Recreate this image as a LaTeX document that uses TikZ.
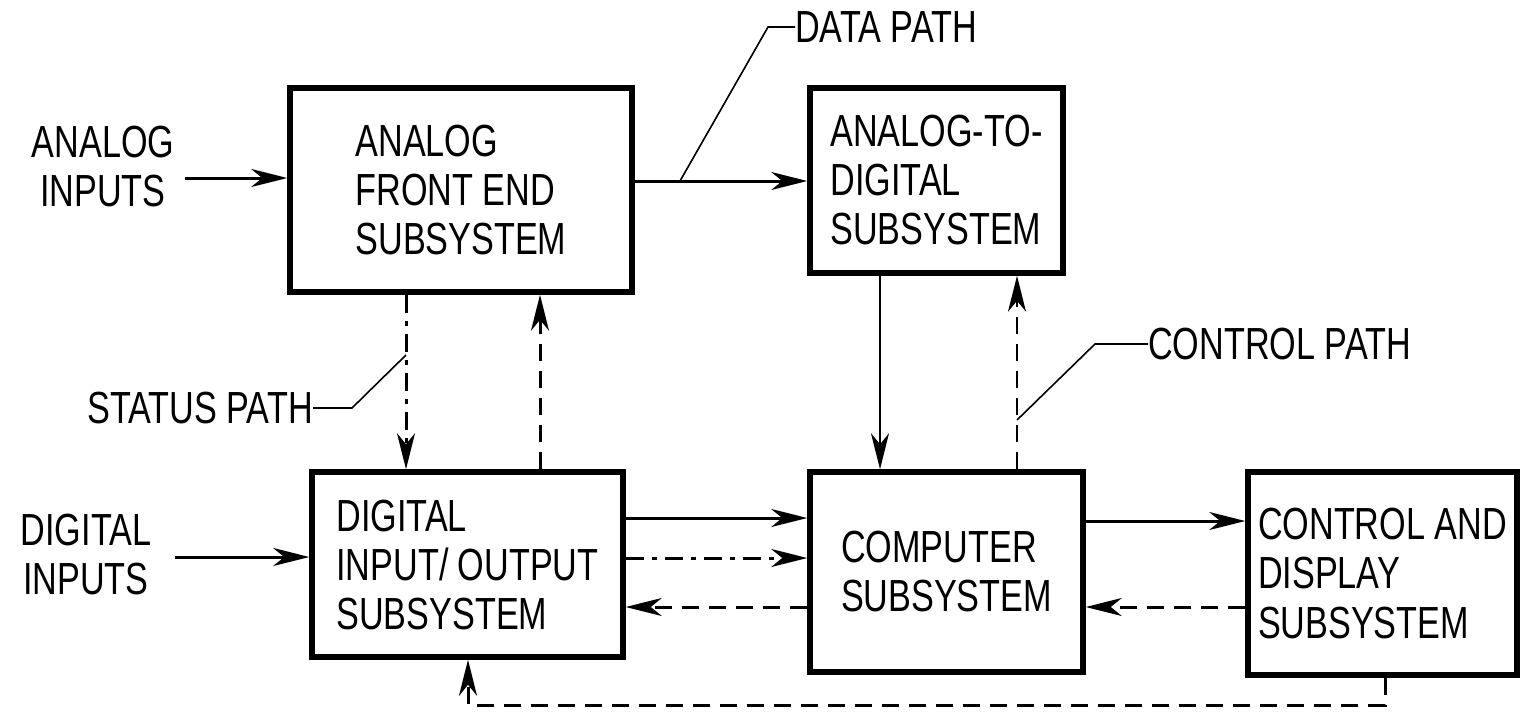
\documentclass[tikz,border=0pt]{standalone}
\usepackage{fontspec}
\setmainfont[FakeStretch=0.76]{Liberation Sans}
\usetikzlibrary{arrows.meta}
\newcommand\diafont{\fontsize{45}{49}\selectfont}
\begin{document}
\begin{tikzpicture}[x=1pt,y=-1pt,
  box/.style={draw, line width=5.5pt, inner sep=0pt, align=left, font=\diafont},
  lbl/.style={inner sep=0pt, font=\diafont},
  tip/.style={-{Stealth[length=36pt,width=18pt,inset=11pt]}},
  conn/.style={line width=3pt, tip},
  thinconn/.style={line width=2pt, tip},
  dsh/.style={dash pattern=on 17pt off 10pt},
  dshdot/.style={dash pattern=on 18pt off 8pt on 5pt off 8pt},
  lead/.style={line width=1.6pt}]
\useasboundingbox (0,0) rectangle (1522,712);
% boxes
\node[box, minimum width=342pt, minimum height=204pt] (A) at (461,190) {ANALOG\\FRONT END\\SUBSYSTEM};
\node[box, minimum width=253pt, minimum height=185pt] (B) at (936.5,180.5) {ANALOG-TO-\\DIGITAL\\SUBSYSTEM};
\node[box, minimum width=311pt, minimum height=185pt] (C) at (467.5,564.5) {DIGITAL\\INPUT/ OUTPUT\\SUBSYSTEM};
\node[box, minimum width=273pt, minimum height=200pt] (D) at (946.5,572) {COMPUTER\\SUBSYSTEM};
\node[box, minimum width=269pt, minimum height=203pt] (E) at (1382.5,573.5) {CONTROL AND\\DISPLAY\\SUBSYSTEM};
% outside labels
\node[lbl, align=center] (ai) at (103,167) {ANALOG\\INPUTS};
\node[lbl, align=center] (di) at (86,555) {DIGITAL\\INPUTS};
\node[lbl, anchor=west] (dp) at (795,27) {DATA PATH};
\node[lbl, anchor=east] (sp) at (313,408) {STATUS PATH};
\node[lbl, anchor=west] (cp) at (1148,344) {CONTROL PATH};
% level coordinates
\coordinate (yAI) at (0,178);
\coordinate (yAB) at (0,181);
\coordinate (yDI) at (0,557);
\coordinate (yC1) at (0,518);
\coordinate (yC2) at (0,558);
\coordinate (yC3) at (0,607);
\coordinate (yE1) at (0,521);
\coordinate (xS) at (406,0);
\coordinate (xU) at (540,0);
\coordinate (xBD) at (880,0);
\coordinate (xDB) at (1017,0);
\coordinate (xEb) at (1385,0);
\coordinate (xCb) at (468,0);
\coordinate (ai0) at (185,178);
\coordinate (di0) at (175,557);
\coordinate (fbA) at (1385,705);
\coordinate (fbB) at (468,705);
% inputs
\draw[conn] (ai0) -- (A.west |- yAI);
\draw[conn] (di0) -- (C.west |- yDI);
% data path A->B
\draw[conn] (A.east |- yAB) -- (B.west |- yAB);
% status path A->C (dash-dot)
\draw[conn, dshdot] (A.south -| xS) -- (C.north -| xS);
% C->A dashed
\draw[conn, dsh] (C.north -| xU) -- (A.south -| xU);
% B->D solid
\draw[thinconn] (B.south -| xBD) -- (D.north -| xBD);
% D->B dashed
\draw[thinconn, dsh] (D.north -| xDB) -- (B.south -| xDB);
% C<->D
\draw[conn] (C.east |- yC1) -- (D.west |- yC1);
\draw[conn, dshdot] (C.east |- yC2) -- (D.west |- yC2);
\draw[conn, dsh] (D.west |- yC3) -- (C.east |- yC3);
% D<->E
\draw[conn] (D.east |- yE1) -- (E.west |- yE1);
\draw[conn, dsh] (E.west |- yC3) -- (D.east |- yC3);
% feedback E->C
\draw[conn, dsh] (E.south -| xEb) -- (fbA) -- (fbB) -- (C.south -| xCb);
% leaders
\coordinate (dl0) at (680,181);
\coordinate (dl1) at (768,27);
\draw[lead] (dl0) -- (dl1) -- (dp.west);
\coordinate (sl0) at (406,355);
\coordinate (sl1) at (352,408);
\draw[lead] (sl0) -- (sl1) -- (sp.east);
\coordinate (cl0) at (1017,420);
\coordinate (cl1) at (1095,344);
\draw[lead] (cl0) -- (cl1) -- (cp.west);
\end{tikzpicture}
\end{document}
